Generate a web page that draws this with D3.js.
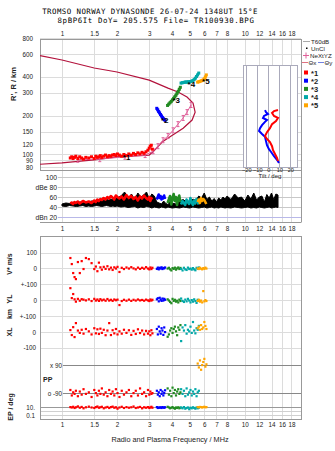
<!DOCTYPE html>
<html><head><meta charset="utf-8">
<script src="https://cdn.jsdelivr.net/npm/d3@7"></script>
<style>body{margin:0;background:#fff}svg{display:block}</style>
</head><body><svg id="c" width="335" height="451"></svg>
<script>
// ---------- data ----------
const freqTicks=[1,1.5,2,3,4,5,6,7,8,10,12,14,16,18];
const heightTicks=[800,600,400,300,200,150,120,100,90,80];
const dbTicks=[100,80,60,40,20];
const dbLabels=["100","dBe 80","60","40","dBn 20"];
const tiltTicks=[-20,-10,0,10,20];
const traceNames=["*1","*2","*3","*4","*5"];
const traceColors=["#ff0000","#0000ff","#228b22","#00a8a8","#ffa500"];

// profile (R vs plasma frequency)
const profF=[0.758,1.0,1.5,2.0,3.0,3.8,4.31,4.83,5.21,5.35,5.15,4.6,3.9,3.53,3.15,3.0,2.0,1.5,1.0,0.758];
const profR=[585,540,468,436,377,327,305,279,250,213,185,160,137,125,105,99,96,91,86,84];
// NeXtYZ
const nxF=[1.22,1.61,2.21,2.85,3.15,3.35,3.57,3.80,4.05,4.31,4.60,4.83,5.08];
const nxR=[91,92,96,99,106,116,129,139,154,172,192,213,242];

// trace *1
const f1=[1.11,1.13,1.15,1.17,1.19,1.22,1.25,1.28,1.31,1.35,1.40,1.45,1.50,1.53,1.56,1.59,1.62,1.65,1.69,1.73,1.77,1.81,1.85,1.89,1.93,1.97,2.01,2.06,2.12,2.18,2.25,2.32,2.39,2.46,2.53,2.60,2.67,2.74,2.81,2.88,2.95,3.00,3.04,3.08,3.12];
const r1=[94,96,93,95,97,93,96,94,92,95,94,96,93,97,95,96,98,95,97,99,96,98,97,99,100,98,101,99,97,100,98,101,99,102,100,103,101,104,102,105,108,112,116,118,110];
const a1=[47,49,46,50,48,51,47,50,52,49,51,48,53,50,55,52,56,54,58,55,60,57,62,59,55,63,60,57,61,55,64,58,62,56,60,53,61,57,63,58,55,60,52,58,55];
const v1=[65,26,-32,-58,-71,39,-32,45,-6,65,58,32,-6,10,-20,35,5,-10,8,-5,12,-8,3,-12,5,-3,8,-25,2,-6,4,-3,6,-2,-8,3,-5,2,-4,6,-3,-8,4,-6,2];
const yl1=[77,13,39,5,-10,8,-4,6,3,-2,5,-6,8,-3,4,-5,6,-2,3,-4,7,-3,2,-5,4,-1,3,-32,-6,2,-4,3,-5,2,-3,4,-2,1,-4,3,-2,-6,4,-3,2];
const xl1=[13,-19,32,-32,58,10,-5,15,-10,20,5,-15,25,-8,18,-12,22,-5,15,-20,10,58,-19,12,-8,20,-15,5,-10,15,-5,12,-18,8,-12,18,-6,10,-15,8,-10,5,-20,12,-8];
const pp1=[-70,-105,-85,-95,-75,-110,-80,-100,-65,-95,-85,-115,-70,-90,-105,-75,-95,-60,-100,-85,-110,-70,-95,-80,-105,-65,-90,-115,-75,-100,-85,-70,-110,-90,-75,-105,-60,-95,-85,-110,-70,-100,-80,-95,-90];
const ep1=[10,8,12,6,9,15,7,11,5,9,13,8,6,10,14,7,9,12,5,8,11,6,10,13,7,9,4,8,12,6,10,7,9,14,6,8,11,5,9,7,10,6,8,12,7];
// trace *2
const f2=[3.30,3.34,3.38,3.42,3.46,3.50,3.54,3.58,3.62,3.66];
const r2=[228,222,215,210,204,199,194,190,187,184];
const a2=[55,60,65,58,62,55,60,57,63,56];
const v2=[-5,3,-8,2,-3,5,-6,1,-2,4];
const yl2=[5,12,-8,15,3,-5,10,-3,8,2];
const xl2=[20,-15,35,5,-10,25,10,-18,30,0];
const pp2=[-75,-100,-85,-110,-70,-95,-80,-105,-90,-72];
const ep2=[10,6,8,7,9,6,10,8,7,9];
// trace *3
const f3=[3.78,3.84,3.90,3.96,4.02,4.08,4.14,4.20,4.26,4.32,4.38,4.44];
const r3=[240,246,252,258,265,272,280,288,298,308,320,332];
const a3=[48,55,62,45,58,66,52,60,44,57,63,50];
const v3=[-3,2,-8,-15,0,-5,3,-10,-2,4,-6,1];
const yl3=[5,-3,-12,-20,8,-5,2,-10,-4,-15,3,-6];
const xl3=[-30,-15,10,25,-5,20,35,5,-20,30,15,45];
const pp3=[-60,-100,-75,-110,-55,-90,-70,-105,-80,-65,-95,-85];
const ep3=[12,8,5,7,10,6,4,8,6,9,5,7];
// trace *4
const f4=[4.48,4.56,4.64,4.72,4.80,4.88,4.96,5.04,5.12,5.20,5.28,5.36,5.44,5.52,5.60];
const r4=[358,360,362,365,364,366,365,368,370,374,380,390,402,414,428];
const a4=[45,52,48,44,55,50,46,58,49,44,53,47,56,51,45];
const v4=[-5,-15,2,-8,-12,3,-6,-3,-10,0,-8,-14,2,-4,4];
const yl4=[10,-5,-12,3,-8,8,-3,-15,0,-10,5,-6,-18,2,-4];
const xl4=[-58,30,10,45,-10,15,5,35,-5,65,10,-8,25,15,40];
const pp4=[-65,-95,-75,-110,-60,-100,-85,-70,-105,-80,-95,-65,-110,-85,-75];
const ep4=[8,5,10,4,6,8,3,7,5,9,6,4,8,5,7];
// trace *5
const f5=[5.52,5.60,5.68,5.76,5.84,5.92,6.00,6.08,6.16];
const r5=[364,366,368,372,375,378,385,398,414];
const a5=[50,55,48,58,52,56,54,50,46];
const v5=[-2,-6,2,-4,-8,0,-5,3,-3];
const yl5=[-5,2,-10,-3,-15,58,-8,0,-6];
const xl5=[25,35,15,45,20,30,65,40,20];
const pp5=[100,75,120,60,90,110,130,80,95];
const ep5=[10,9,11,10,8,10,12,9,10];

// amplitude (all echoes, black)
const ampF=[1.00,1.05,1.10,1.15,1.20,1.25,1.30,1.35,1.40,1.45,1.50,1.55,1.60,1.65,1.70,1.75,1.80,1.85,1.90,1.95,2.00,
2.1,2.2,2.3,2.4,2.5,2.6,2.7,2.8,2.9,3.0,3.1,3.2,3.3,3.4,3.5,3.6,3.7,3.8,3.9,
4.0,4.2,4.4,4.6,4.8,5.0,5.2,5.4,5.6,5.8,6.0,6.2,6.4,6.6,6.8,7.0,7.2,7.4,7.6,7.8,
8.0,8.4,8.8,9.2,9.6,10.0,10.4,10.8,11.2,11.6,12.0,12.4,12.8,13.2,13.6,14.0,14.4,14.8,15.2];
const ampLo=[42,41,43,42,41,42,43,41,42,41,42,43,42,41,42,43,42,41,42,41,42,
40,41,39,40,41,38,40,39,41,40,38,40,39,38,40,39,38,40,39,
38,39,38,40,39,38,40,39,38,39,40,38,39,40,38,39,38,40,39,38,
39,38,40,39,38,39,40,38,39,38,40,39,38,39,40,38,39,40,39];
const ampHi=[46,48,47,49,48,50,49,51,50,52,51,53,52,54,53,55,54,56,55,57,58,
62,70,58,66,55,68,60,64,70,57,66,62,50,48,46,52,47,45,50,
48,46,52,55,50,47,56,53,62,58,68,55,60,52,57,50,58,54,60,56,
62,55,66,58,60,52,64,56,68,54,60,62,50,65,58,68,55,66,64];

// tilt inset
const tiltXR=[221,217,210,199,192,182,172,160,149,139,132,125,116,108,101,94,89];
const tiltXV=[8.8,5.2,3.4,5.2,8.8,7.0,3.4,1.5,-1.2,-3.0,-1.2,1.5,3.4,4.3,6.1,7.9,8.8];
const tiltYR=[221,213,206,199,192,185,179,169,160,152,144,137,127,118,110,105,97,91,86];
const tiltYV=[-3.0,-2.1,-0.3,-3.9,-4.8,-1.2,-3.0,-5.7,-7.5,-8.4,-5.7,-3.0,-2.1,-1.2,0.6,2.4,5.2,7.9,9.7];

const traces=[
 {f:f1,r:r1,a:a1,v:v1,yl:yl1,xl:xl1,pp:pp1,ep:ep1,lab:29,dx:-1,dy:6},
 {f:f2,r:r2,a:a2,v:v2,yl:yl2,xl:xl2,pp:pp2,ep:ep2,lab:9,dx:-4,dy:3},
 {f:f3,r:r3,a:a3,v:v3,yl:yl3,xl:xl3,pp:pp3,ep:ep3,lab:4,dx:0,dy:3},
 {f:f4,r:r4,a:a4,v:v4,yl:yl4,xl:xl4,pp:pp4,ep:ep4,lab:4,dx:1,dy:5},
 {f:f5,r:r5,a:a5,v:v5,yl:yl5,xl:xl5,pp:pp5,ep:ep5,lab:4,dx:0,dy:4}
];

// ---------- layout ----------
const svg=d3.select("#c");
const SANS="Liberation Sans, Arial, sans-serif";
const X0=40,X1=301;
const TOP=[39,170],AMP=[170,222],LOW=[236,419];
const x=d3.scaleLog().domain([0.758,20.3]).range([X0,X1]);
const yR=d3.scaleLog().domain([80,800]).range([167,38]);
const yA=d3.scaleLinear().domain([20,100]).range([217,177]);
const yV=d3.scaleLinear().domain([-100,100]).range([283.5,252.5]);
const yYL=d3.scaleLinear().domain([-100,100]).range([315.5,284.5]);
const yXL=d3.scaleLinear().domain([-100,100]).range([347.5,316.5]);
const yPP=d3.scaleLinear().domain([-90,90]).range([393,365]);
const yEP=d3.scaleLog().domain([0.1,10]).range([415,407]);
const xT=d3.scaleLinear().domain([-23,27]).range([243,298]);
const yT=yR;

const defs=svg.append("defs");
defs.append("clipPath").attr("id","ctop").append("rect").attr("x",X0).attr("y",TOP[0]).attr("width",X1-X0).attr("height",TOP[1]-TOP[0]);

// ---------- grids ----------
const grid=svg.append("g").attr("stroke","#dcdcdc").attr("stroke-width",1);
[[TOP[0],TOP[1]],[AMP[0],AMP[1]],[LOW[0],LOW[1]]].forEach(p=>{
  grid.selectAll(null).data(freqTicks).enter().append("line")
    .attr("x1",d=>Math.round(x(d))+0.5).attr("x2",d=>Math.round(x(d))+0.5)
    .attr("y1",p[0]).attr("y2",p[1]);
});
grid.selectAll(null).data(heightTicks).enter().append("line")
  .attr("x1",X0).attr("x2",X1).attr("y1",d=>Math.round(yR(d))+0.5).attr("y2",d=>Math.round(yR(d))+0.5);
grid.selectAll(null).data(dbTicks).enter().append("line")
  .attr("x1",58).attr("x2",X1).attr("y1",d=>Math.round(yA(d))+0.5).attr("y2",d=>Math.round(yA(d))+0.5)
  .attr("stroke",d=>d===20?"#b8b8e8":"#c8c8c8");
const rowLines=[[yV,[100,0,-100]],[yYL,[0,-100]],[yXL,[0,-100]]];
rowLines.forEach(([s,vals])=>{
  grid.selectAll(null).data(vals).enter().append("line")
    .attr("x1",X0).attr("x2",X1).attr("y1",d=>Math.round(s(d))+0.5).attr("y2",d=>Math.round(s(d))+0.5);
});
grid.selectAll(null).data([90,-90]).enter().append("line")
  .attr("x1",63).attr("x2",X1).attr("y1",d=>Math.round(yPP(d))+0.5).attr("y2",d=>Math.round(yPP(d))+0.5).attr("stroke","#888");
grid.selectAll(null).data([10,1,0.1]).enter().append("line")
  .attr("x1",X0).attr("x2",X1).attr("y1",d=>Math.round(yEP(d))+0.5).attr("y2",d=>Math.round(yEP(d))+0.5)
  .attr("stroke",d=>d===10?"#999":"#d0d0d0");

// borders
const bd=svg.append("g").attr("fill","none").attr("stroke","#999");
bd.append("rect").attr("x",X0+0.5).attr("y",TOP[0]+0.5).attr("width",X1-X0).attr("height",TOP[1]-TOP[0]);
bd.append("line").attr("x1",X1+0.5).attr("x2",X1+0.5).attr("y1",AMP[0]).attr("y2",AMP[1]);
bd.append("line").attr("x1",X0).attr("x2",X1+0.5).attr("y1",AMP[1]+0.5).attr("y2",AMP[1]+0.5);
bd.append("rect").attr("x",X0+0.5).attr("y",LOW[0]+0.5).attr("width",X1-X0).attr("height",LOW[1]-LOW[0]);

// ---------- top panel ----------
const topG=svg.append("g").attr("clip-path","url(#ctop)");
const prof=profF.map((f,i)=>[f,profR[i]]);
topG.append("path").datum(prof).attr("fill","none").attr("stroke","#b3123c").attr("stroke-width",1.2)
  .attr("d",d3.line().x(d=>x(d[0])).y(d=>yR(d[1])));
const nx=nxF.map((f,i)=>[f,nxR[i]]);
topG.append("path").datum(nx).attr("fill","none").attr("stroke","#e0609a").attr("stroke-width",1)
  .attr("d",d3.line().x(d=>x(d[0])).y(d=>yR(d[1])));
topG.selectAll(".nxm").data(nx).enter().append("path")
  .attr("stroke","#e0609a").attr("stroke-width",1).attr("fill","none")
  .attr("d",d=>{const X=x(d[0]),Y=yR(d[1]);return `M${X-1.5},${Y-2.5}H${X+1.5}M${X},${Y-2.5}V${Y+2.5}M${X-1.5},${Y+2.5}H${X+1.5}`;});

traces.forEach((t,k)=>{
  const pts=t.f.map((f,i)=>[f,t.r[i]]);
  if(k>0) topG.append("path").datum(pts).attr("fill","none").attr("stroke",traceColors[k]).attr("stroke-width",2.5)
    .attr("d",d3.line().x(d=>x(d[0])).y(d=>yR(d[1])));
  topG.selectAll(null).data(pts).enter().append("rect")
    .attr("x",d=>x(d[0])-1.5).attr("y",d=>yR(d[1])-1.5).attr("width",3).attr("height",3).attr("fill",traceColors[k]);
});
traces.forEach((t,k)=>{
  topG.append("text").attr("x",x(t.f[t.lab])+t.dx).attr("y",yR(t.r[t.lab])+t.dy)
    .attr("font-family",SANS).attr("font-size",8).attr("font-weight","bold").attr("fill","#000").text(traceNames[k]);
});

// tilt inset
const ins=svg.append("g");
ins.append("rect").attr("x",243.5).attr("y",65.5).attr("width",54).attr("height",102).attr("fill","#fff").attr("stroke","#aab");
ins.selectAll(null).data(tiltTicks).enter().append("line")
  .attr("x1",d=>Math.round(xT(d))+0.5).attr("x2",d=>Math.round(xT(d))+0.5).attr("y1",66).attr("y2",167).attr("stroke","#aab");
ins.append("path").datum(tiltYV.map((v,i)=>[v,tiltYR[i]])).attr("fill","none").attr("stroke","#0000ff").attr("stroke-width",2)
  .attr("d",d3.line().x(d=>xT(d[0])).y(d=>yT(d[1])));
ins.append("path").datum(tiltXV.map((v,i)=>[v,tiltXR[i]])).attr("fill","none").attr("stroke","#ff0000").attr("stroke-width",2)
  .attr("d",d3.line().x(d=>xT(d[0])).y(d=>yT(d[1])));
const tAx=ins.append("g").attr("transform","translate(0,168.5)")
  .call(d3.axisBottom(xT).tickValues(tiltTicks).tickSize(0).tickPadding(0).tickFormat(d3.format("d")));
tAx.select(".domain").remove();
tAx.selectAll("text").attr("font-size",5.6).attr("font-family",SANS).attr("fill","#222");
ins.append("text").attr("x",270).attr("y",178).attr("text-anchor","middle").attr("font-size",6).attr("font-family",SANS).attr("fill","#222").text("Tilt / deg");

// ---------- amplitude panel ----------
const ampG=svg.append("g");
ampG.append("path").datum(ampF.map((f,i)=>[f,ampLo[i],ampHi[i]])).attr("fill","#000").attr("stroke","#000").attr("stroke-width",1)
  .attr("d",d3.area().x(d=>x(d[0])).y0(d=>yA(d[1])).y1(d=>yA(d[2])));
traces.forEach((t,k)=>{
  ampG.append("path").datum(t.f.map((f,i)=>[f,t.a[i]])).attr("fill","none").attr("stroke",traceColors[k]).attr("stroke-width",2.6)
    .attr("stroke-linejoin","round").attr("d",d3.line().x(d=>x(d[0])).y(d=>yA(d[1])));
});

// ---------- lower panel ----------
const lowG=svg.append("g");
const rows=[["v",yV],["yl",yYL],["xl",yXL],["pp",yPP],["ep",yEP]];
traces.forEach((t,k)=>{
  rows.forEach(([key,s])=>{
    lowG.selectAll(null).data(t.f.map((f,i)=>[f,t[key][i]])).enter().append("rect")
      .attr("x",d=>x(d[0])-1).attr("y",d=>s(d[1])-1).attr("width",2.2).attr("height",2.2).attr("fill",traceColors[k]);
  });
});

// ---------- axes & text ----------
function styleAxis(g,size){
  g.select(".domain").remove();
  g.selectAll("line").remove();
  g.selectAll("text").attr("font-size",size).attr("font-family",SANS).attr("fill","#222");
  return g;
}
const ffmt=d=>String(d);
styleAxis(svg.append("g").attr("transform","translate(0,35.5)").call(d3.axisTop(x).tickValues(freqTicks).tickSize(0).tickPadding(0).tickFormat(ffmt)),6.3);
styleAxis(svg.append("g").attr("transform","translate(0,227)").call(d3.axisBottom(x).tickValues(freqTicks).tickSize(0).tickPadding(0).tickFormat(ffmt)),6.3);
styleAxis(svg.append("g").attr("transform","translate(0,423)").call(d3.axisBottom(x).tickValues(freqTicks).tickSize(0).tickPadding(0).tickFormat(ffmt)),6.3);
styleAxis(svg.append("g").attr("transform",`translate(${X0},0)`).call(d3.axisLeft(yR).tickValues(heightTicks).tickSize(0).tickPadding(7).tickFormat(d3.format("d"))),6.3);
styleAxis(svg.append("g").attr("transform","translate(58,0)").call(d3.axisLeft(yA).tickValues(dbTicks).tickSize(0).tickPadding(1).tickFormat((d,i)=>dbLabels[i])),6.8);
styleAxis(svg.append("g").attr("transform",`translate(${X0},0)`).call(d3.axisLeft(yV).tickValues([100,0]).tickSize(0).tickPadding(3).tickFormat(d3.format("d"))),6.3);
styleAxis(svg.append("g").attr("transform",`translate(${X0},0)`).call(d3.axisLeft(yYL).tickValues([100,0]).tickSize(0).tickPadding(3).tickFormat(d=>d===100?"+-100":"0")),6.3);
styleAxis(svg.append("g").attr("transform",`translate(${X0},0)`).call(d3.axisLeft(yXL).tickValues([100,0,-100]).tickSize(0).tickPadding(4).tickFormat(d=>d===100?"+-100":String(d))),6.3);
styleAxis(svg.append("g").attr("transform","translate(63,0)").call(d3.axisLeft(yPP).tickValues([90,-90]).tickSize(0).tickPadding(1).tickFormat(d=>d>0?"x  90":"o -90")),6.3);
styleAxis(svg.append("g").attr("transform",`translate(${X0},0)`).call(d3.axisLeft(yEP).tickValues([10,0.1]).tickSize(0).tickPadding(5).tickFormat(d=>d===10?"10.":"0.1")),6.3);

// titles
const mono="DejaVu Sans Mono, Liberation Mono, monospace";
svg.append("text").attr("x",150).attr("y",14).attr("text-anchor","middle").attr("font-family",mono).attr("font-size",7.4).attr("letter-spacing",0.45).attr("fill","#000")
  .text("TROMSO NORWAY   DYNASONDE 26-07-24 1348UT 15°E");
svg.append("text").attr("x",156).attr("y",23).attr("text-anchor","middle").attr("font-family",mono).attr("font-size",7.4).attr("letter-spacing",0.6).attr("fill","#000")
  .text("8pBP6It DoY= 205.575 File= TR100930.BPG");
function vlabel(t,cx,cy,size){
  svg.append("text").attr("transform",`translate(${cx},${cy}) rotate(-90)`).attr("text-anchor","middle").attr("dy","0.35em")
   .attr("font-family",SANS).attr("font-size",size).attr("font-weight","bold").attr("fill","#222").text(t);
}
vlabel("R', R / km",13,84,7.5);
vlabel("V* m/s",10,264,7);
vlabel("YL",10,299,7);
vlabel("km",10,314,7);
vlabel("XL",10,332,7);
vlabel("EP / deg",11,407,7);
svg.append("text").attr("x",43).attr("y",381.5).attr("font-family",SANS).attr("font-size",7).attr("font-weight","bold").attr("fill","#222").text("PP");
svg.append("text").attr("x",170).attr("y",442).attr("text-anchor","middle").attr("font-family",SANS).attr("font-size",7.3).attr("fill","#222")
  .text("Radio and Plasma Frequency / MHz");

// legend
const lg=svg.append("g").attr("font-family",SANS).attr("font-size",6.2).attr("fill","#222");
lg.append("line").attr("x1",303).attr("x2",310).attr("y1",41.5).attr("y2",41.5).attr("stroke","#aaa");
lg.append("text").attr("x",311).attr("y",43.5).text("T60dB");
lg.append("rect").attr("x",306).attr("y",47.5).attr("width",1.5).attr("height",1.5).attr("fill","#000");
lg.append("text").attr("x",311).attr("y",50.5).text("UnCl");
lg.append("path").attr("d","M303,55.5H309M306,52.5V58.5").attr("stroke","#e0609a");
lg.append("text").attr("x",310).attr("y",57.5).text("NeXtYZ");
lg.append("line").attr("x1",302).attr("x2",308).attr("y1",62.5).attr("y2",62.5).attr("stroke","#e07080");
lg.append("text").attr("x",308.5).attr("y",64.5).text("Θx");
lg.append("line").attr("x1",318).attr("x2",324).attr("y1",62.5).attr("y2",62.5).attr("stroke","#7080e0");
lg.append("text").attr("x",324.5).attr("y",64.5).text("Θy");
traceNames.forEach((n,i)=>{
  const yy=73+i*8.2;
  lg.append("rect").attr("x",304).attr("y",yy-2.5).attr("width",4).attr("height",4).attr("fill",traceColors[i]);
  lg.append("text").attr("x",311).attr("y",yy+2.5).attr("font-weight","bold").attr("font-size",7.5).text(n);
});
</script></body></html>
